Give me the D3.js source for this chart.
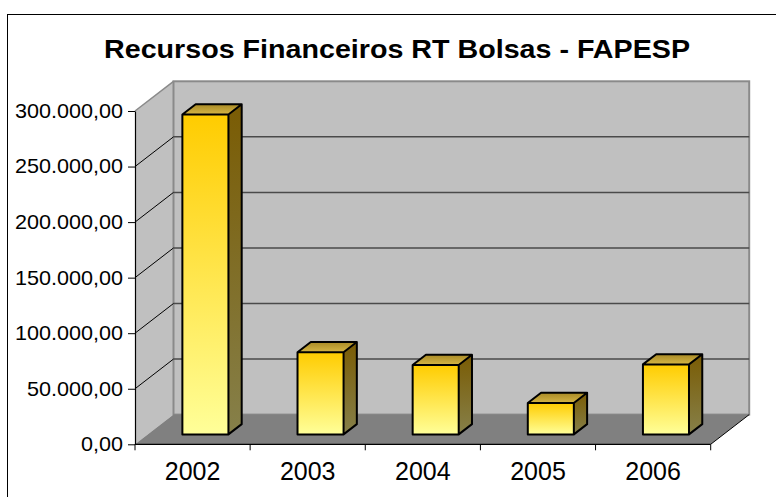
<!DOCTYPE html>
<html>
<head>
<meta charset="utf-8">
<script src="https://cdn.jsdelivr.net/npm/d3@7"></script>
<style>
  body { margin: 0; background: #fff; }
  text { font-family: "Liberation Sans", Arial, sans-serif; fill: #000; }
</style>
</head>
<body>
<div id="chart"></div>
<script>
const years = ['2002', '2003', '2004', '2005', '2006'];
const values = [288000, 74000, 62500, 28200, 63000];
const tickValues = [0, 50000, 100000, 150000, 200000, 250000, 300000];
const titleText = 'Recursos Financeiros RT Bolsas - FAPESP';

const width = 776;
const height = 497;

// front plane of the 3D box and depth vector
const plotLeft = 135, plotRight = 710.7;
const plotBase = 444.3, plotTop = 111;
const depthX = 38.5, depthY = -29.7;
const barFront = 1 / 3, barBack = 0.678;

const svg = d3.select('#chart').append('svg')
  .attr('width', width).attr('height', height);

const defs = svg.append('defs');
gradient('gFront', [['0%', '#ffcc00'], ['100%', '#ffff99']], 0, 0, 0, 1);
gradient('gTop', [['0%', '#a88a26'], ['100%', '#d6b646']], 0, 0, 0, 1);
gradient('gSide', [['0%', '#7a5c04'], ['100%', '#86804a']], 0, 0, 0, 1);

const x = d3.scaleBand().domain(years).range([plotLeft, plotRight]);
const y = d3.scaleLinear().domain([0, 300000]).range([plotBase, plotTop]);

const locale = d3.formatLocale({ decimal: ',', thousands: '.', grouping: [3], currency: ['', ''] });
const fmt = locale.format(',.2f');

// outer border
svg.append('rect')
  .attr('x', 7.5).attr('y', 14.5)
  .attr('width', 820).attr('height', 520)
  .attr('fill', 'none').attr('stroke', '#000').attr('stroke-width', 1);

svg.append('text')
  .attr('x', 397).attr('y', 58)
  .attr('text-anchor', 'middle')
  .attr('font-size', 26).attr('font-weight', 'bold')
  .attr('textLength', 586).attr('lengthAdjust', 'spacingAndGlyphs')
  .text(titleText);

// walls and floor
svg.append('path')
  .attr('d', poly([[plotLeft, plotBase], [plotLeft, plotTop], [plotLeft + depthX, plotTop + depthY], [plotLeft + depthX, plotBase + depthY]]))
  .attr('fill', '#c0c0c0');

svg.append('rect')
  .attr('x', plotLeft + depthX).attr('y', plotTop + depthY)
  .attr('width', plotRight - plotLeft).attr('height', plotBase - plotTop)
  .attr('fill', '#c0c0c0').attr('stroke', '#8a8a8a').attr('stroke-width', 2);

svg.append('path')
  .attr('d', poly([[plotLeft, plotBase], [plotRight, plotBase], [plotRight + depthX, plotBase + depthY], [plotLeft + depthX, plotBase + depthY]]))
  .attr('fill', '#808080');

svg.append('line')
  .attr('x1', plotRight).attr('y1', plotBase)
  .attr('x2', plotRight + depthX).attr('y2', plotBase + depthY)
  .attr('stroke', '#000').attr('stroke-width', 1);

svg.append('line')
  .attr('x1', plotLeft).attr('y1', plotTop)
  .attr('x2', plotLeft + depthX).attr('y2', plotTop + depthY)
  .attr('stroke', '#8a8a8a').attr('stroke-width', 1.5);

// gridlines on back wall and side wall
const grid = tickValues.filter(t => t > 0 && t < 300000);
svg.selectAll('line.back-grid').data(grid).enter().append('line')
  .attr('class', 'back-grid')
  .attr('x1', plotLeft + depthX).attr('x2', plotRight + depthX)
  .attr('y1', d => y(d) + depthY).attr('y2', d => y(d) + depthY)
  .attr('stroke', '#4a4a4a').attr('stroke-width', 1.5);

svg.selectAll('line.side-grid').data(grid).enter().append('line')
  .attr('class', 'side-grid')
  .attr('x1', plotLeft).attr('y1', d => y(d))
  .attr('x2', plotLeft + depthX).attr('y2', d => y(d) + depthY)
  .attr('stroke', '#000').attr('stroke-width', 1);

// bars
const bw = x.bandwidth();
const fx = depthX * barFront, fy = depthY * barFront;
const bx = depthX * (barBack - barFront), by = depthY * (barBack - barFront);

const bars = svg.selectAll('g.bar').data(years.map((d, i) => ({ year: d, value: values[i] })))
  .enter().append('g').attr('class', 'bar');

function barBox(d) {
  const x0 = x(d.year) + bw * 0.3 + fx;
  const x1 = x0 + bw * 0.4;
  const yb = y(0) + fy;
  const yt = y(d.value) + fy;
  return { x0, x1, yb, yt };
}

bars.append('path')
  .attr('d', d => {
    const b = barBox(d);
    return poly([[b.x1, b.yt], [b.x1 + bx, b.yt + by], [b.x1 + bx, b.yb + by], [b.x1, b.yb]]);
  })
  .attr('fill', 'url(#gSide)');

bars.append('path')
  .attr('d', d => {
    const b = barBox(d);
    return poly([[b.x0, b.yt], [b.x0 + bx, b.yt + by], [b.x1 + bx, b.yt + by], [b.x1, b.yt]]);
  })
  .attr('fill', 'url(#gTop)');

bars.append('rect')
  .attr('x', d => barBox(d).x0)
  .attr('y', d => barBox(d).yt)
  .attr('width', bw * 0.4)
  .attr('height', d => barBox(d).yb - barBox(d).yt)
  .attr('fill', 'url(#gFront)');

bars.append('path')
  .attr('d', d => {
    const b = barBox(d);
    return poly([[b.x0, b.yb], [b.x0, b.yt], [b.x0 + bx, b.yt + by], [b.x1 + bx, b.yt + by],
      [b.x1 + bx, b.yb + by], [b.x1, b.yb]]) +
      'M' + b.x1 + ',' + b.yb + 'L' + b.x1 + ',' + b.yt + 'L' + b.x0 + ',' + b.yt +
      'M' + b.x1 + ',' + b.yt + 'L' + (b.x1 + bx) + ',' + (b.yt + by);
  })
  .attr('fill', 'none').attr('stroke', '#000').attr('stroke-width', 2)
  .attr('stroke-linejoin', 'round');

// value axis
const yAxis = svg.append('g')
  .attr('transform', translate(plotLeft, 0))
  .call(d3.axisLeft(y).tickValues(tickValues).tickFormat(fmt).tickSizeInner(7).tickSizeOuter(0).tickPadding(5));
yAxis.select('.domain').attr('stroke', '#000').attr('stroke-width', 1.2);
yAxis.selectAll('.tick line').attr('stroke', '#000');
yAxis.selectAll('.tick text')
  .attr('font-size', 20).attr('font-family', '"Liberation Sans", Arial, sans-serif')
  .attr('x', -12 / 1.08).attr('transform', 'scale(1.08,1)');

// category axis
svg.append('line')
  .attr('x1', plotLeft).attr('x2', plotRight).attr('y1', plotBase).attr('y2', plotBase)
  .attr('stroke', '#000').attr('stroke-width', 1.2);

const bounds = years.map(d => x(d)).concat([plotRight]);
svg.selectAll('line.cat-tick').data(bounds).enter().append('line')
  .attr('class', 'cat-tick')
  .attr('x1', d => d).attr('x2', d => d)
  .attr('y1', plotBase).attr('y2', plotBase + 6)
  .attr('stroke', '#000');

svg.selectAll('text.cat-label').data(years).enter().append('text')
  .attr('class', 'cat-label')
  .attr('x', d => x(d) + bw / 2).attr('y', 480)
  .attr('text-anchor', 'middle')
  .attr('font-size', 25)
  .text(d => d);

// Utilities

function gradient(id, stops, x1, y1, x2, y2) {
  const g = defs.append('linearGradient').attr('id', id)
    .attr('x1', x1).attr('y1', y1).attr('x2', x2).attr('y2', y2);
  stops.forEach(s => g.append('stop').attr('offset', s[0]).attr('stop-color', s[1]));
}

function poly(pts) {
  return 'M' + pts.map(p => p[0] + ',' + p[1]).join('L') + 'Z';
}

function translate(a, b) {
  return 'translate(' + a + ',' + b + ')';
}
</script>
</body>
</html>
